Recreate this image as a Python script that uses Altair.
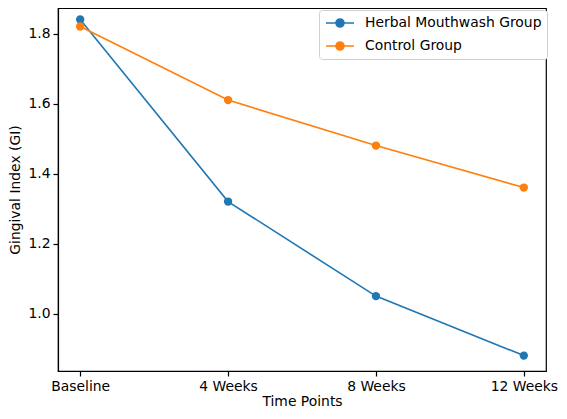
import altair as alt
import pandas as pd

time_points = ["Baseline", "4 Weeks", "8 Weeks", "12 Weeks"]
herbal_gi = [1.84, 1.32, 1.05, 0.88]
control_gi = [1.82, 1.61, 1.48, 1.36]
groups = ["Herbal Mouthwash Group", "Control Group"]
colors = ["#1f77b4", "#ff7f0e"]

rows = []
for g, vals in zip(groups, [herbal_gi, control_gi]):
    for t, v in zip(time_points, vals):
        rows.append({"Time": t, "GI": v, "Group": g})
df = pd.DataFrame(rows)

font = "DejaVu Sans"
fs = 13.9

# legend handle: line with a dot, shifted right of the nominal symbol box
legend_symbol = ("M-0.857,0L3.143,0"
                 "M0.572,0A0.571,0.571 0 1,1 1.714,0A0.571,0.571 0 1,1 0.572,0Z")

axis_style = dict(labelFontSize=fs, titleFontSize=fs, tickSize=5,
                  domainColor="black", tickColor="black",
                  labelColor="black", titleColor="black",
                  titleFontWeight="normal", labelFont=font, titleFont=font)

base = alt.Chart(df).encode(
    x=alt.X("Time:N", sort=time_points, title="Time Points",
            scale=alt.Scale(type="point", padding=0.15),
            axis=alt.Axis(labelAngle=0, labelPadding=3, titlePadding=2, **axis_style)),
    y=alt.Y("GI:Q", title="Gingival Index (GI)",
            scale=alt.Scale(domain=[0.836, 1.873], nice=False, zero=False),
            axis=alt.Axis(values=[1.0, 1.2, 1.4, 1.6, 1.8], format=".1f",
                          grid=False, labelPadding=3, titlePadding=5, **axis_style)),
    color=alt.Color("Group:N", sort=groups,
                    scale=alt.Scale(domain=groups, range=colors),
                    legend=alt.Legend(title=None, orient="none",
                                      legendX=261, legendY=2,
                                      symbolType=legend_symbol, symbolSize=196,
                                      symbolStrokeWidth=1.6, labelFontSize=fs,
                                      labelFont=font, labelColor="black",
                                      labelOffset=25, labelLimit=400,
                                      strokeColor="#d0d0d0", fillColor="white",
                                      padding=5, cornerRadius=3, rowPadding=7)),
)

lines = base.mark_line(strokeWidth=1.6)
points = base.mark_circle(size=70, opacity=1)

chart = alt.layer(lines, points).properties(
    width=488,
    height=363,
    autosize=alt.AutoSizeParams(type="none"),
    padding={"left": 50, "top": 0, "right": 13, "bottom": 37},
).configure_view(stroke="black", strokeWidth=1.2).configure_axis(
    grid=False, domainWidth=1.2, tickWidth=1.2
)

chart.save("out.html", embed_options={"renderer": "svg", "actions": False})
